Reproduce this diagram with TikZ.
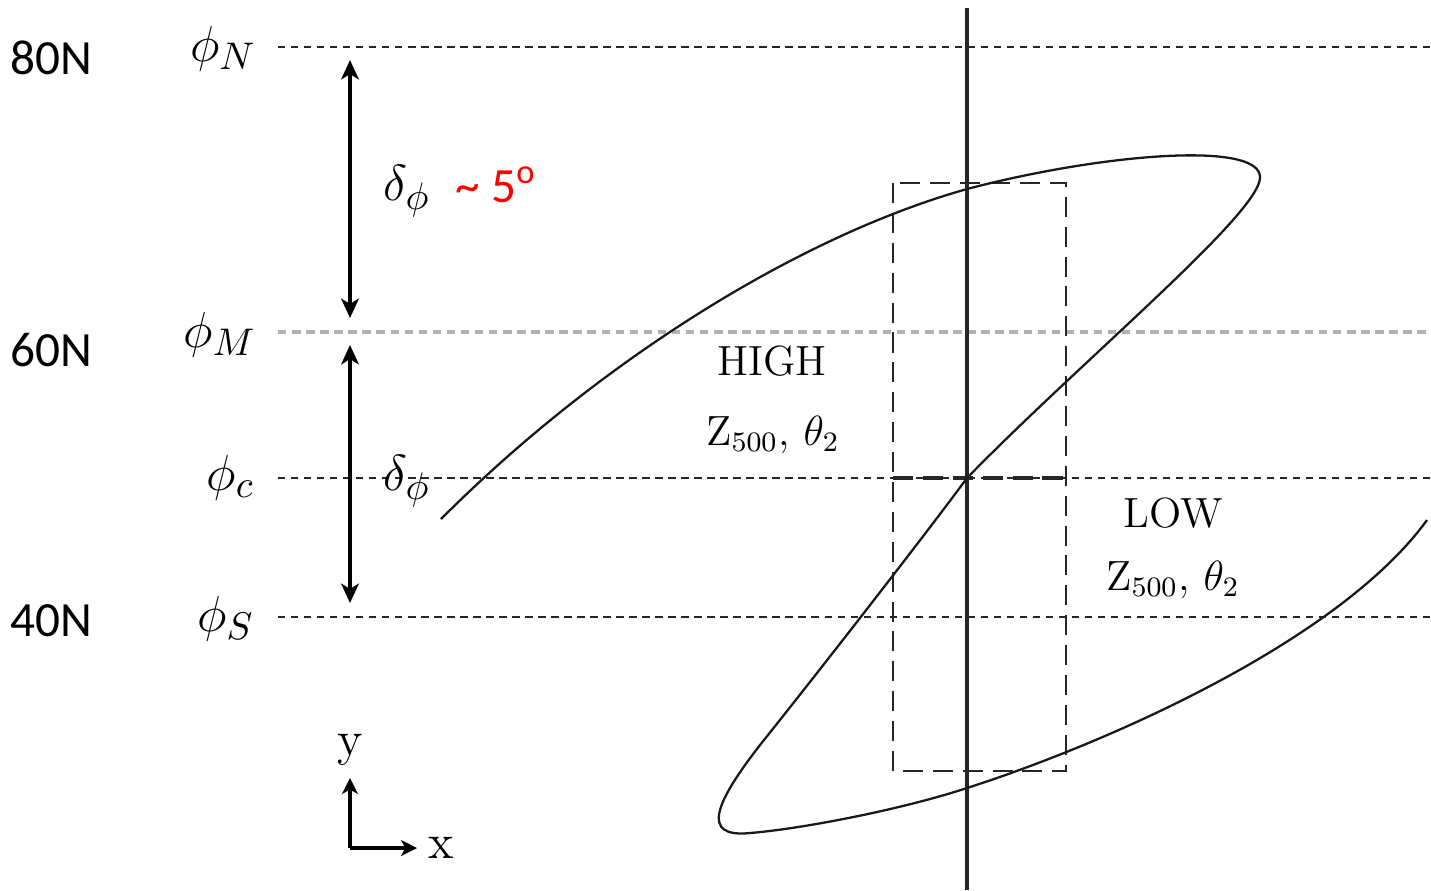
\documentclass[tikz,border=0pt]{standalone}
\usepackage{fontspec}
\newfontfamily\calib{Carlito}
\usetikzlibrary{arrows.meta}
\begin{document}
\begin{tikzpicture}[x=0.01cm,y=-0.01cm,
  lat/.style={font=\calib\fontsize{14}{16}\selectfont, anchor=base west, inner sep=0},
  philab/.style={font=\fontsize{15.5}{18}\selectfont, anchor=base east, inner sep=0},
  dlab/.style={font=\fontsize{15.5}{18}\selectfont, anchor=base west, inner sep=0},
  redlab/.style={font=\calib\fontsize{14}{16}\selectfont, text=red, anchor=base west, inner sep=0},
  region/.style={font=\fontsize{12}{14}\selectfont, anchor=base, inner sep=0},
  axlab/.style={font=\fontsize{14}{16}\selectfont, anchor=base, inner sep=0},
  guide/.style={dash pattern=on 2.1pt off 1.6pt, line width=0.5pt, black!85},
  guidegray/.style={dash pattern=on 2.4pt off 1.6pt, line width=0.9pt, black!30},
  boxdash/.style={dash pattern=on 5.7pt off 2.8pt, line width=0.55pt, black!85},
  middash/.style={dash pattern=on 5.7pt off 2.8pt, line width=1pt, black!85},
  dbl/.style={{Stealth[length=5.5pt,width=5pt,inset=1.5pt]}-{Stealth[length=5.5pt,width=5pt,inset=1.5pt]}, line width=1.1pt},
  axarrow/.style={-{Stealth[length=4.5pt,width=4.5pt,inset=1.2pt]}, line width=1pt},
  curve/.style={line width=0.65pt, black!90},
  axisline/.style={line width=1pt, black!85}]
\useasboundingbox (0,0) rectangle (1431,890);

% guide line end points
\coordinate (nL) at (278,47);  \coordinate (nR) at (1431,47);
\coordinate (mL) at (278,332); \coordinate (mR) at (1431,332);
\coordinate (cL) at (278,478); \coordinate (cR) at (1431,478);
\coordinate (sL) at (278,617); \coordinate (sR) at (1431,617);
\draw[guide] (nL) -- (nR);
\draw[guidegray] (mL) -- (mR);
\draw[guide] (cL) -- (cR);
\draw[guide] (sL) -- (sR);

% latitude labels
\node[lat] (l80) at (10,74) {80N};
\node[lat] (l60) at (10,366) {60N};
\node[lat] (l40) at (10,636) {40N};

% phi labels
\node[philab] (phN) at (257,61) {$\phi_N$};
\node[philab] (phM) at (257,347) {$\phi_M$};
\node[philab] (phC) at (255,490) {$\phi_c$};
\node[philab] (phS) at (255,631) {$\phi_S$};

% delta arrows
\coordinate (a1t) at (350,60);  \coordinate (a1b) at (350,318);
\coordinate (a2t) at (350,345); \coordinate (a2b) at (350,603);
\draw[dbl] (a1t) -- (a1b);
\draw[dbl] (a2t) -- (a2b);
\node[dlab] (d1) at (383,200) {$\delta_\phi$};
\node[redlab] (d1r) at (455,202) {\textasciitilde{} 5\textsuperscript{o}};
\node[dlab] (d2) at (383,490) {$\delta_\phi$};

% dashed box and its middle line
\coordinate (bxL) at (893,478); \coordinate (bxR) at (1066,478);
\draw[boxdash] (893,183) rectangle (1066,771);
\draw[middash] (bxL) -- (bxR);

% vertical axis line
\coordinate (vT) at (967,8); \coordinate (vB) at (967,890);
\draw[axisline] (vT) -- (vB);

% the curve
\draw[curve] (441,519)
  .. controls (600,360) and (800,236) .. (967,189)
  .. controls (1100,154) and (1262,140) .. (1260,178)
  .. controls (1258,215) and (1080,362) .. (967,478)
  .. controls (925,535) and (820,670) .. (760,745)
  .. controls (715,803) and (700,838) .. (750,833)
  .. controls (800,829) and (900,810) .. (967,788)
  .. controls (1110,742) and (1340,640) .. (1427,520);

% region labels
\node[region] (hi) at (772,375) {HIGH};
\node[region] (hiz) at (773,445) {$\mathrm{Z}_{500},\,\theta_2$};
\node[region] (lo) at (1173,527) {LOW};
\node[region] (loz) at (1173,590) {$\mathrm{Z}_{500},\,\theta_2$};

% coordinate axes
\coordinate (o) at (350,848);
\coordinate (yt) at (350,778);
\coordinate (xt) at (417,848);
\draw[axarrow] (o) -- (yt);
\draw[axarrow] (o) -- (xt);
\node[axlab] (ylab) at (350,755) {y};
\node[axlab] (xlab) at (441,858) {x};
\end{tikzpicture}
\end{document}
